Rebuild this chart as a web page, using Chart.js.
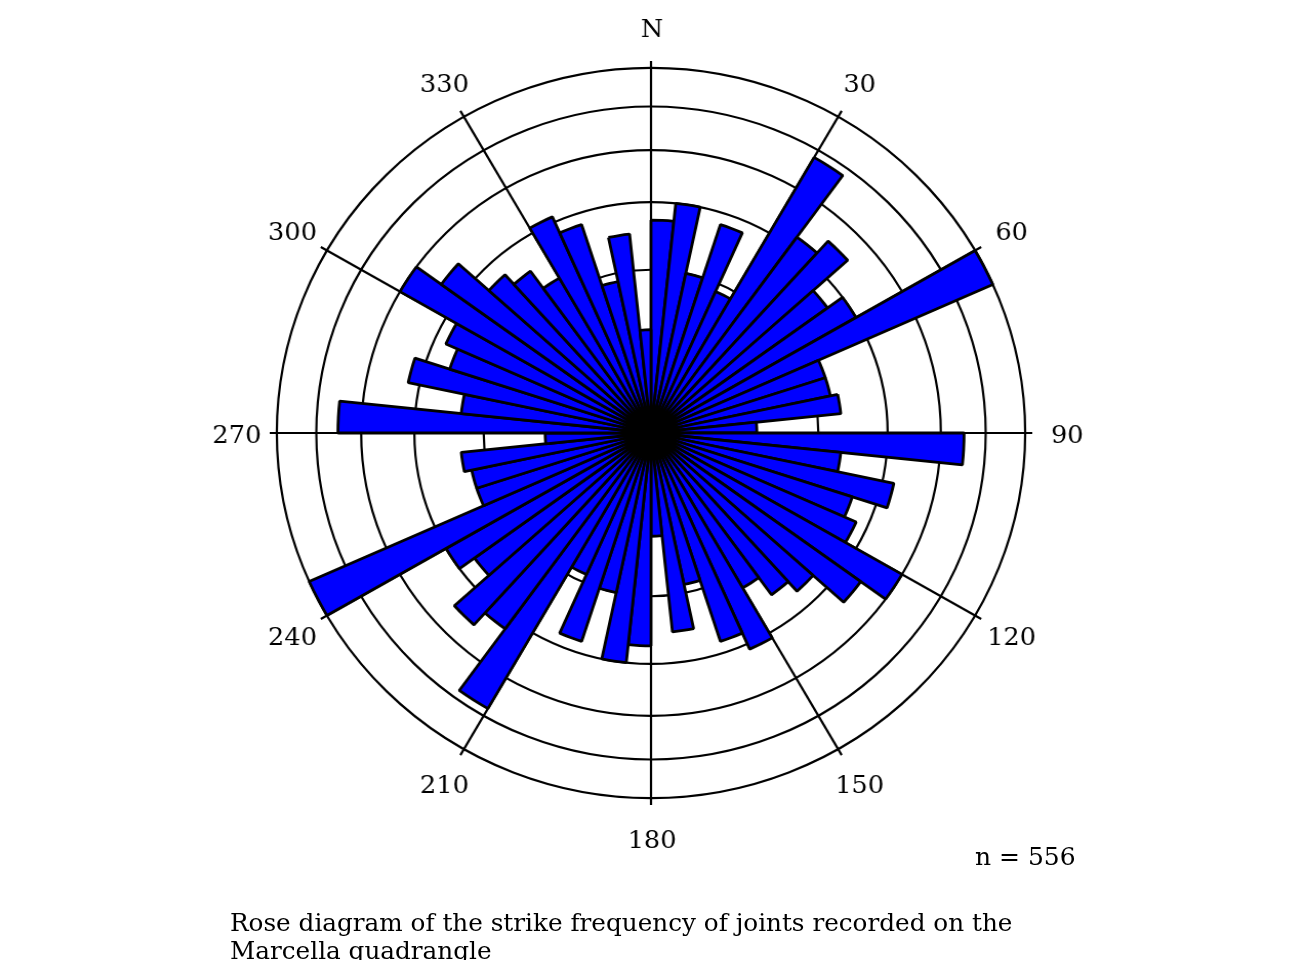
<!DOCTYPE html>
<html>
<head>
<meta charset="utf-8">
<script src="https://cdn.jsdelivr.net/npm/chart.js@4.4.0/dist/chart.umd.min.js"></script>
<style>
  html, body { margin: 0; padding: 0; background: #fff; overflow: hidden; }
  body { width: 1310px; height: 960px; position: relative; font-family: "DejaVu Serif", serif; color: #000; }
  #rose { position: absolute; left: 0; top: 0; transform-origin: 651px 433px; transform: scaleX(1.025); }
  #count { position: absolute; left: 975px; top: 843px; font-size: 25px; line-height: 28px; white-space: nowrap; }
  #caption { position: absolute; left: 230px; top: 909px; font-size: 24.7px; line-height: 28px; white-space: nowrap; }
</style>
</head>
<body>
<canvas id="rose" width="1310" height="960"></canvas>
<div id="count"></div>
<div id="caption">Rose diagram of the strike frequency of joints recorded on the<br>Marcella quadrangle</div>
<script>
// joint strikes in 6 degree bins from 0 to 180, the other half of the rose is the same
const binWidth = 6;
const strikeCounts = [17, 20, 10, 18, 9, 38, 22, 25, 17, 20, 50, 12, 12, 13, 4, 35, 13, 22, 16, 18, 30, 24, 17, 15, 12, 21, 18, 9, 15, 4];
const ringCounts = [10, 20, 30, 40, 50];
const compassLabels = ["N", "30", "60", "90", "120", "150", "180", "210", "240", "270", "300", "330"];

const allBins = strikeCounts.concat(strikeCounts);
const binLabels = allBins.map((c, i) => String(i * binWidth));
const maxRing = ringCounts[ringCounts.length - 1];
const total = strikeCounts.reduce((a, b) => a + b, 0);
document.getElementById("count").textContent = "n = " + total;

// equal area rose: radius goes with the square root of the count
const area = (c) => Math.sqrt(c);

const compassPlugin = {
  id: "compass",
  afterDatasetsDraw(chart) {
    const scale = chart.scales.r;
    const ctx = chart.ctx;
    const step = 30 / binWidth;
    const dist = scale.getDistanceFromCenterForValue(area(maxRing)) + 40;
    ctx.save();
    ctx.font = "25px 'DejaVu Serif'";
    ctx.fillStyle = "#000";
    ctx.textAlign = "center";
    ctx.textBaseline = "middle";
    compassLabels.forEach((txt, k) => {
      const p = scale.getPointPosition(k * step, dist);
      ctx.fillText(txt, p.x + 1, p.y + 3);
    });
    ctx.restore();
  },
};

new Chart(document.getElementById("rose"), {
  type: "polarArea",
  data: {
    labels: binLabels,
    datasets: [
      {
        data: allBins.map(area),
        backgroundColor: "#0000ff",
        borderColor: "#000",
        borderWidth: 2.8,
      },
    ],
  },
  options: {
    responsive: false,
    animation: false,
    layout: { padding: { left: 279, right: 287, top: 61, bottom: 155 } },
    plugins: { legend: { display: false }, tooltip: { enabled: false } },
    scales: {
      r: {
        min: 0,
        max: area(maxRing) * 1.019,
        startAngle: 0,
        afterBuildTicks: (axis) => {
          axis.ticks = [0].concat(ringCounts).map((c) => ({ value: area(c) }));
        },
        ticks: { display: false },
        grid: { circular: true, color: "#000", lineWidth: 2.2 },
        angleLines: {
          display: true,
          color: "#000",
          lineWidth: (c) => (c.index % (30 / binWidth) === 0 ? 2.2 : 0),
        },
        pointLabels: { display: false },
      },
    },
  },
  plugins: [compassPlugin],
});
</script>
</body>
</html>
